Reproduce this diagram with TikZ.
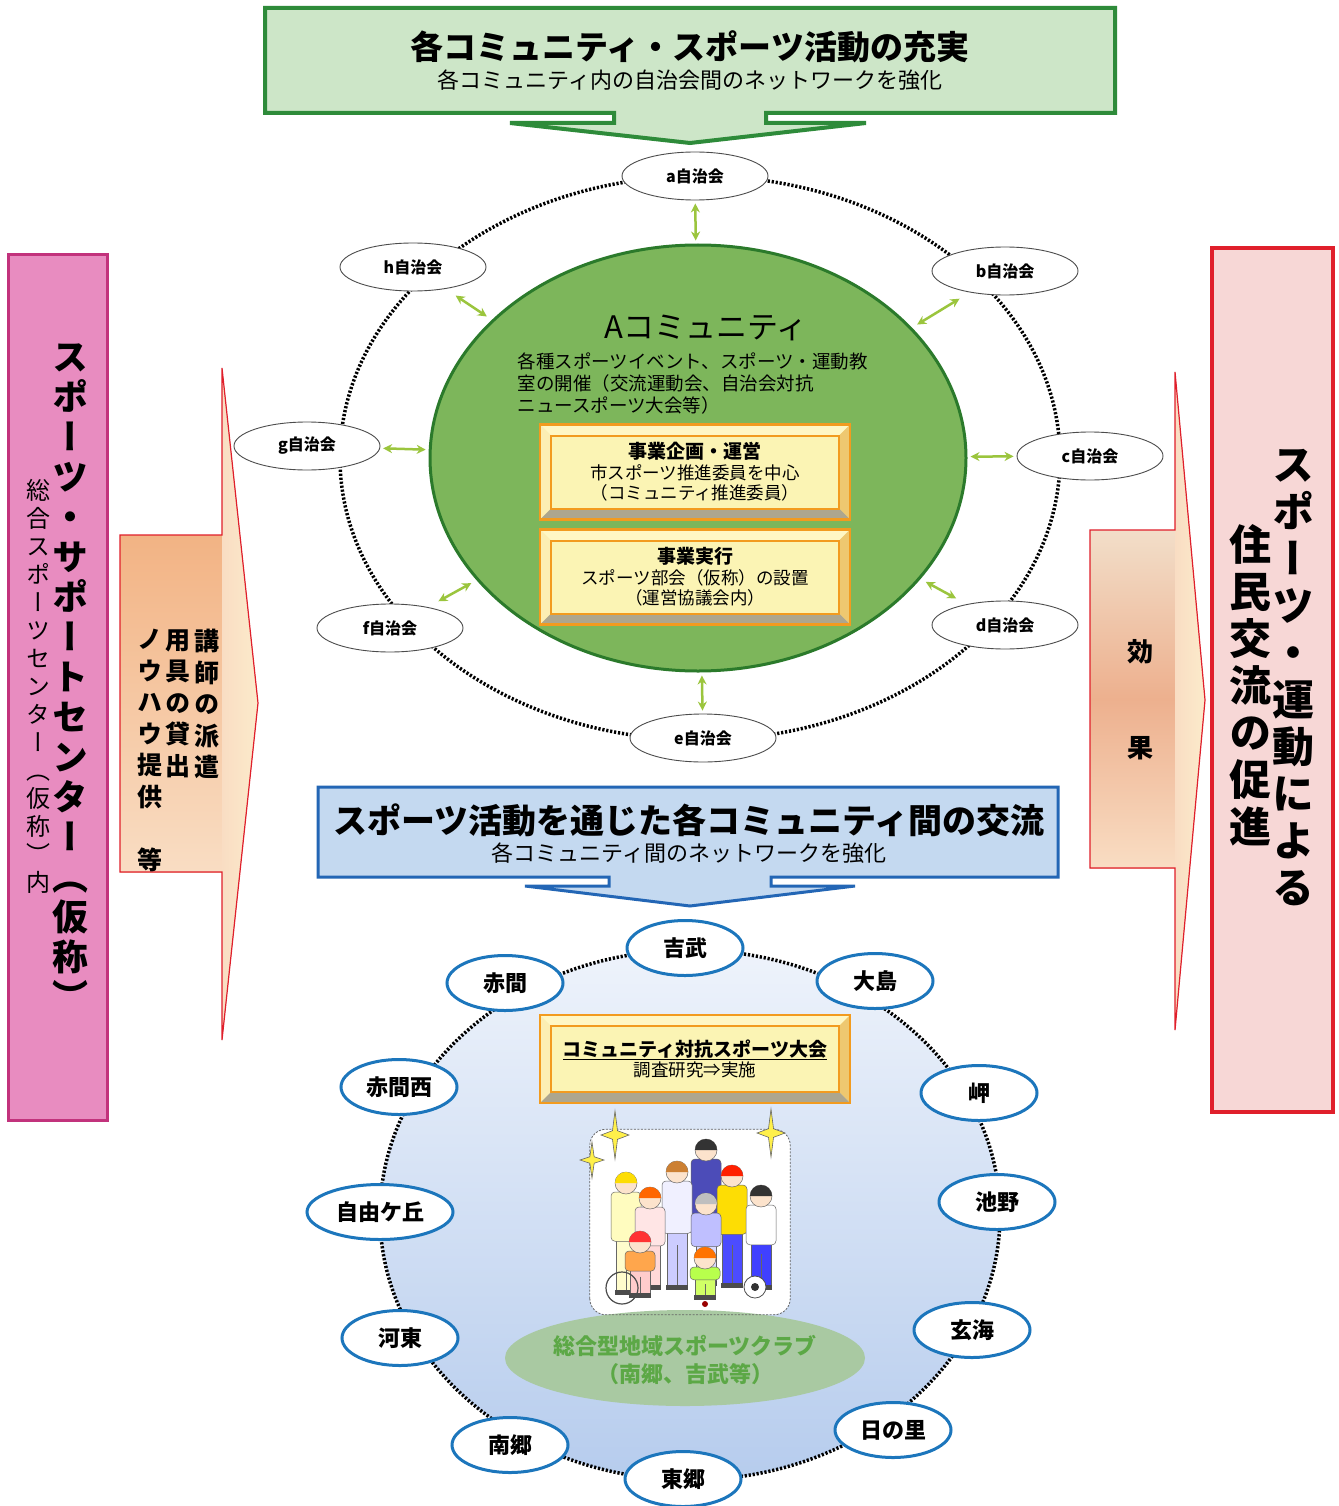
\documentclass[tikz,border=0pt]{standalone}
\usepackage{fontspec}
\setmainfont{Noto Sans CJK JP}
\newfontfamily\tate[RawFeature=+vert]{Noto Sans CJK JP}
\usetikzlibrary{shapes.geometric,arrows.meta,calc}

\definecolor{kgreen}{HTML}{2E8B3A}
\definecolor{kgreenfill}{HTML}{CDE6C8}
\definecolor{agreen}{HTML}{7DB65B}
\definecolor{agreenline}{HTML}{2B7A2B}
\definecolor{linkgreen}{HTML}{9BC53D}
\definecolor{bvorange}{HTML}{F29B1F}
\definecolor{bvcream}{HTML}{FBF4B4}
\definecolor{bvlight}{HTML}{FFF7C4}
\definecolor{bvside}{HTML}{EEC870}
\definecolor{bvshadow}{HTML}{ADA68E}
\definecolor{pinkfill}{HTML}{E88CC0}
\definecolor{pinkline}{HTML}{C2327C}
\definecolor{rosefill}{HTML}{F7D7D6}
\definecolor{redline}{HTML}{E01F2B}
\definecolor{peach}{HTML}{F2B384}
\definecolor{peachlight}{HTML}{F9DDC3}
\definecolor{peachpale}{HTML}{FCEBCB}
\definecolor{peachpink}{HTML}{EDB08E}
\definecolor{peachtop}{HTML}{F2DEC9}
\definecolor{bluefill}{HTML}{C4D9F0}
\definecolor{blueline}{HTML}{2366B5}
\definecolor{ringblue}{HTML}{1C76BC}
\definecolor{pooltop}{HTML}{EEF3FB}
\definecolor{poolblue}{HTML}{B6CCED}
\definecolor{clubfill}{HTML}{A9C9A2}
\definecolor{clubtext}{HTML}{5CA846}
\definecolor{sparkyellow}{HTML}{FFF04A}
\definecolor{skin}{HTML}{FCE3CC}

\tikzset{
  jichi/.style={ellipse, draw=black!70, line width=0.9pt, fill=white,
    minimum width=146pt, minimum height=48pt, inner sep=0pt,
    font=\bfseries\fontsize{16}{18}\selectfont},
  chiku/.style={ellipse, draw=ringblue, line width=3pt, fill=white,
    minimum width=116pt, minimum height=55pt, inner sep=0pt,
    font=\bfseries\fontsize{22}{24}\selectfont},
  jlink/.style={linkgreen, line width=2.5pt,
    {Stealth[length=9pt,width=9pt]}-{Stealth[length=9pt,width=9pt]},
    shorten <=3pt, shorten >=3pt},
  dotring/.style={line width=3.5pt, dash pattern=on 2.2pt off 1.8pt},
  bevelbox/.style={rectangle, draw=bvorange, line width=2.5pt, fill=bvcream,
    minimum width=310pt, minimum height=#1, inner sep=0pt, align=center,
    font=\fontsize{17.5}{20.5}\selectfont,
    path picture={
      \coordinate (bvnw) at (path picture bounding box.north west);
      \coordinate (bvne) at (path picture bounding box.north east);
      \coordinate (bvsw) at (path picture bounding box.south west);
      \coordinate (bvse) at (path picture bounding box.south east);
      \fill[bvlight] (bvnw) -- (bvne) -- ([shift={(-11pt,-11pt)}]bvne) -- ([shift={(11pt,-11pt)}]bvnw) -- cycle;
      \fill[bvlight!80!bvside] (bvnw) -- ([shift={(11pt,-11pt)}]bvnw) -- ([shift={(11pt,11pt)}]bvsw) -- (bvsw) -- cycle;
      \fill[bvside] (bvne) -- (bvse) -- ([shift={(-11pt,11pt)}]bvse) -- ([shift={(-11pt,-11pt)}]bvne) -- cycle;
      \fill[bvshadow] (bvsw) -- (bvse) -- ([shift={(-11pt,11pt)}]bvse) -- ([shift={(11pt,11pt)}]bvsw) -- cycle;
      \draw[bvorange, line width=2pt] ([shift={(11pt,-11pt)}]bvnw) rectangle ([shift={(-11pt,11pt)}]bvse);
    }},
  photoframe/.style={draw=black!60, line width=0.8pt, dash pattern=on 2pt off 1.5pt, rounded corners=16pt},
}

% one autonomous association on the upper ring
\newcommand{\jichikai}[4]{\node[jichi] (#1) at (#2,#3) {#4};}
% one community on the lower ring
\newcommand{\chikunode}[4]{\node[chiku] (#1) at (#2,#3) {#4};}
% four-pointed star
\newcommand{\sparkle}[4]{\draw[black!60, line width=0.6pt, fill=sparkyellow]
    (#1,{#2-#4}) -- ({#1+0.18*#3},{#2-0.18*#4}) -- ({#1+#3},#2) -- ({#1+0.18*#3},{#2+0.18*#4})
    -- (#1,{#2+#4}) -- ({#1-0.18*#3},{#2+0.18*#4}) -- ({#1-#3},#2) -- ({#1-0.18*#3},{#2-0.18*#4}) -- cycle;}
% a standing figure: x, head y, feet y, hair, shirt, trousers
\newcommand{\kid}[6]{%
  \draw[black!60, line width=0.5pt, fill=#6] ({#1-10},{#2+0.45*(#3-#2)}) rectangle ({#1+10},{#3-4});
  \draw[black!60, line width=0.5pt] (#1,{#2+0.62*(#3-#2)}) -- (#1,{#3-4});
  \draw[black!60, line width=0.5pt, fill=#5, rounded corners=4pt] ({#1-15},{#2+9}) rectangle ({#1+15},{#2+0.52*(#3-#2)});
  \fill[black!70] ({#1-11},{#3-5}) rectangle ({#1+11},#3);
  \draw[black!60, line width=0.5pt, fill=skin] (#1,#2) circle [radius=11];
  \fill[#4] ({#1-11},#2) arc [start angle=180, end angle=360, radius=11];}

\begin{document}
\begin{tikzpicture}[x=1pt,y=-1pt]
  \fill[white] (0,0) rectangle (1338,1506);
  \useasboundingbox (0,0) rectangle (1338,1506);

  % top banner and its arrow
  \draw[kgreen, line width=4pt, fill=kgreenfill]
    (265,8) -- (1115,8) -- (1115,113) -- (766,113) -- (766,123) -- (866,123)
    -- (690,143) -- (510,123) -- (614,123) -- (614,113) -- (265,113) -- cycle;
  \node[font=\bfseries\fontsize{33}{36}\selectfont] (toptitle) at (690,47) {各コミュニティ・スポーツ活動の充実};
  \node[font=\fontsize{22}{24}\selectfont] (topsub) at (690,80) {各コミュニティ内の自治会間のネットワークを強化};

  % support centre column
  \draw[pinkline, line width=3pt, fill=pinkfill] (8,255) rectangle (107,1120);
  \node[anchor=north, align=center, font=\tate\bfseries\fontsize{36}{40}\selectfont] (ssc) at (70,340)
    {ス\\ポ\\ー\\ツ\\・\\サ\\ポ\\ー\\ト\\セ\\ン\\タ\\ー\\（\\仮\\称\\）};
  \node[anchor=north, align=center, font=\tate\fontsize{24}{28}\selectfont] (sscsub) at (38,476)
    {総\\合\\ス\\ポ\\ー\\ツ\\セ\\ン\\タ\\ー\\（\\仮\\称\\）\\内};

  % support arrow
  \fill[top color=peach, bottom color=peachlight] (120,535) rectangle (222,872);
  \fill[left color=peachlight, right color=peachpale] (222,368) -- (258,703) -- (222,1040) -- cycle;
  \draw[redline, line width=1.2pt] (120,535) -- (222,535) -- (222,368) -- (258,703)
    -- (222,1040) -- (222,872) -- (120,872) -- cycle;
  \node[anchor=north, align=center, font=\tate\bfseries\fontsize{25}{31.5}\selectfont] (haken) at (207,626)
    {講\\師\\の\\派\\遣};
  \node[anchor=north, align=center, font=\tate\bfseries\fontsize{25}{31.5}\selectfont] (kashi) at (178,626)
    {用\\具\\の\\貸\\出};
  \node[anchor=north, align=center, font=\tate\bfseries\fontsize{25}{31.5}\selectfont] (nouhau) at (150,626)
    {ノ\\ウ\\ハ\\ウ\\提\\供\\\mbox{}\\等};

  % effect arrow
  \fill[top color=peachtop, bottom color=peachlight, middle color=peachpink] (1090,530) rectangle (1175,868);
  \fill[left color=peachlight, right color=peachpale] (1175,372) -- (1205,700) -- (1175,1030) -- cycle;
  \draw[redline, line width=1.2pt] (1090,530) -- (1175,530) -- (1175,372) -- (1205,700)
    -- (1175,1030) -- (1175,868) -- (1090,868) -- cycle;
  \node[font=\bfseries\fontsize{26}{28}\selectfont] (kou) at (1140,652) {効};
  \node[font=\bfseries\fontsize{26}{28}\selectfont] (ka) at (1140,748) {果};

  % result column
  \draw[redline, line width=4pt, fill=rosefill] (1212,248) rectangle (1333,1112);
  \node[anchor=north, align=center, font=\tate\bfseries\fontsize{42}{47}\selectfont] (undou) at (1293,446)
    {ス\\ポ\\ー\\ツ\\・\\運\\動\\に\\よ\\る};
  \node[anchor=north, align=center, font=\tate\bfseries\fontsize{42}{47}\selectfont] (kouryu) at (1250,521)
    {住\\民\\交\\流\\の\\促\\進};

  % community A and its associations
  \draw[dotring] (700,458) ellipse [x radius=360pt, y radius=282pt];
  \node[ellipse, draw=agreenline, line width=3pt, fill=agreen, minimum width=536pt, minimum height=426pt] (acomm) at (698,458) {};
  \node[font=\fontsize{31}{33}\selectfont] (atitle) at (706,328) {Aコミュニティ};
  \node[anchor=north west, align=left, font=\fontsize{18.5}{22}\selectfont] (adesc) at (514,349)
    {各種スポーツイベント、スポーツ・運動教\\室の開催（交流運動会、自治会対抗\\ニュースポーツ大会等）};
  \node[bevelbox=95pt] (plan) at (695,472)
    {{\bfseries\fontsize{19}{21}\selectfont 事業企画・運営}\\市スポーツ推進委員を中心\\（コミュニティ推進委員）};
  \node[bevelbox=95pt] (exec) at (695,577)
    {{\bfseries\fontsize{19}{21}\selectfont 事業実行}\\スポーツ部会（仮称）の設置\\（運営協議会内）};

  \jichikai{ja}{695}{176}{a自治会}
  \jichikai{jb}{1005}{271}{b自治会}
  \jichikai{jc}{1090}{456}{c自治会}
  \jichikai{jd}{1005}{625}{d自治会}
  \jichikai{je}{703}{738}{e自治会}
  \jichikai{jf}{390}{628}{f自治会}
  \jichikai{jg}{307}{446}{g自治会}
  \jichikai{jh}{413}{267}{h自治会}

  \draw[jlink] (ja) -- (acomm);
  \draw[jlink, shorten <=12pt, shorten >=6pt] (jb) -- (acomm);
  \draw[jlink] (jc) -- (acomm);
  \draw[jlink, shorten <=12pt, shorten >=6pt] (jd) -- (acomm);
  \draw[jlink] (je) -- (acomm);
  \draw[jlink, shorten <=12pt, shorten >=6pt] (jf) -- (acomm);
  \draw[jlink] (jg) -- (acomm);
  \draw[jlink, shorten <=12pt, shorten >=6pt] (jh) -- (acomm);

  % banner between communities
  \draw[blueline, line width=3pt, fill=bluefill]
    (318,787) -- (1058,787) -- (1058,877) -- (771,877) -- (771,886) -- (855,886)
    -- (690,906) -- (525,886) -- (609,886) -- (609,877) -- (318,877) -- cycle;
  \node[font=\bfseries\fontsize{34}{36}\selectfont] (midtitle) at (689,820) {スポーツ活動を通じた各コミュニティ間の交流};
  \node[font=\fontsize{22}{24}\selectfont] (midsub) at (689,853) {各コミュニティ間のネットワークを強化};

  % ring of communities
  \node[ellipse, dotring, draw=black, top color=pooltop, bottom color=poolblue,
    minimum width=620pt, minimum height=530pt] (pool) at (690,1215) {};
  \node[bevelbox=88pt] (taikou) at (695,1059)
    {{\bfseries\fontsize{19}{21}\selectfont\underline{コミュニティ対抗スポーツ大会}}\\調査研究⇒実施};

  \node[fill=white, rounded corners=16pt, minimum width=200pt, minimum height=185pt] (photo) at (690,1222) {};
  \node[ellipse, fill=clubfill, minimum width=360pt, minimum height=96pt] (club) at (685,1358) {};
  \draw[photoframe] (photo.south west) rectangle (photo.north east);
  \node[align=center, text=clubtext, font=\bfseries\fontsize{22}{28}\selectfont] (clubname) at (685,1360)
    {総合型地域スポーツクラブ\\（南郷、吉武等）};

  % people
  \kid{706}{1150}{1286}{black!80}{blue!60!black!70!white}{blue!25}
  \kid{677}{1172}{1290}{brown!80!orange}{blue!6}{blue!20}
  \kid{626}{1183}{1295}{yellow!80!orange}{yellow!25}{yellow!20}
  \kid{732}{1176}{1288}{red!75!orange}{yellow!80!orange}{blue!70}
  \kid{761}{1196}{1290}{black!80}{white}{blue!75}
  \kid{650}{1198}{1290}{orange!80!red}{pink!40}{pink!60}
  \kid{706}{1204}{1286}{gray!50}{blue!25}{blue!15}
  \kid{640}{1242}{1298}{red!80}{orange!70}{pink!80}
  \kid{705}{1258}{1300}{orange!90!red}{green!40!yellow!70}{green!30!yellow!60}
  \draw[black!70, line width=1.2pt] (622,1288) circle [radius=16];
  \draw[black!70, line width=0.8pt, fill=white] (755,1287) circle [radius=11];
  \fill[black!80] (755,1287) circle [radius=4];
  \fill[red!60!black] (705,1304) circle [radius=3];
  \sparkle{615}{1135}{14}{24}
  \sparkle{771}{1133}{14}{24}
  \sparkle{592}{1160}{12}{18}

  \chikunode{yoshitake}{685}{948}{吉武}
  \chikunode{oshima}{875}{981}{大島}
  \chikunode{akama}{505}{983}{赤間}
  \chikunode{akamanishi}{399}{1087}{赤間西}
  \chikunode{misaki}{979}{1093}{岬}
  \node[chiku, minimum width=146pt] (jiyugaoka) at (380,1212) {自由ケ丘};
  \chikunode{ikeno}{997}{1202}{池野}
  \chikunode{kato}{400}{1338}{河東}
  \chikunode{genkai}{972}{1330}{玄海}
  \chikunode{nango}{510}{1445}{南郷}
  \chikunode{hinosato}{893}{1430}{日の里}
  \chikunode{togo}{683}{1479}{東郷}
\end{tikzpicture}
\end{document}
